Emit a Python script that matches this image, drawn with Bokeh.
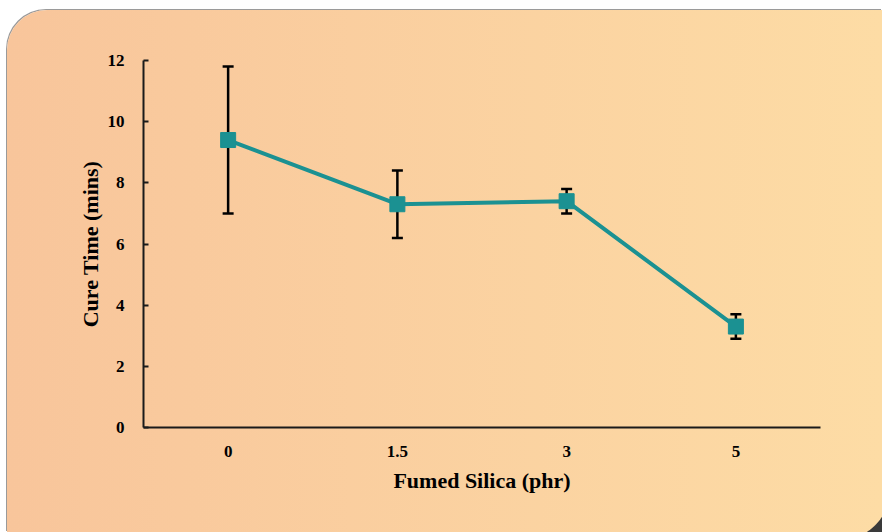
from bokeh.plotting import figure
from bokeh.models import ColumnDataSource, Whisker, TeeHead, FixedTicker
from bokeh.embed import file_html
from bokeh.resources import INLINE

categories = ["0", "1.5", "3", "5"]
cure_time = [9.4, 7.3, 7.4, 3.3]
err_upper = [11.8, 8.4, 7.8, 3.7]
err_lower = [7.0, 6.2, 7.0, 2.9]
y_ticks = [0, 2, 4, 6, 8, 10, 12]

source = ColumnDataSource(data=dict(x=categories, y=cure_time, upper=err_upper, lower=err_lower))

FONT = "Liberation Serif"
TEAL = "#1B9192"

p = figure(x_range=categories, y_range=(0, 12), width=875, height=522,
           output_backend="svg", toolbar_location=None,
           min_border_left=136, min_border_right=62, min_border_top=50, min_border_bottom=105)

p.background_fill_color = None
p.border_fill_color = None
p.outline_line_color = None
p.grid.visible = False

corner = ("radial-gradient(circle 50px at -12px -12px, rgba(58,58,58,0) 49.3px, #3a3a3a 50.3px) "
          "right bottom / 30px 30px no-repeat")
p.styles = {
    "margin-left": "7px",
    "margin-top": "10px",
    "background": corner + ", linear-gradient(to right, #F8C59B, #FDDCA5)",
    "border-top-left-radius": "40px",
    "box-shadow": "-1px -1px 0 0 #9a9a9a",
}

whisk = Whisker(base="x", upper="upper", lower="lower", source=source,
                line_color="black", line_width=2.5, level="underlay",
                upper_head=TeeHead(size=11, line_color="black", line_width=2.5),
                lower_head=TeeHead(size=11, line_color="black", line_width=2.5))
p.add_layout(whisk)

p.line("x", "y", source=source, line_color=TEAL, line_width=4)
p.scatter("x", "y", source=source, marker="square", size=15, fill_color=TEAL, line_color=TEAL)

for ax in (p.xaxis[0], p.yaxis[0]):
    ax.axis_line_color = "#1a1a1a"
    ax.axis_line_width = 2
    ax.major_tick_line_color = "#1a1a1a"
    ax.major_tick_line_width = 2
    ax.minor_tick_line_color = None
    ax.major_label_text_font = FONT
    ax.major_label_text_font_style = "bold"
    ax.major_label_text_font_size = "17px"
    ax.major_label_text_color = "#000000"
    ax.axis_label_text_font = FONT
    ax.axis_label_text_font_style = "bold"
    ax.axis_label_text_font_size = "22px"
    ax.axis_label_text_color = "#000000"

p.yaxis[0].ticker = FixedTicker(ticks=y_ticks)
p.yaxis[0].major_tick_in = 5
p.yaxis[0].major_tick_out = 0
p.yaxis[0].major_label_standoff = 19
p.yaxis[0].axis_label = "Cure Time (mins)"
p.yaxis[0].axis_label_standoff = 2

p.xaxis[0].major_tick_in = 0
p.xaxis[0].major_tick_out = 0
p.xaxis[0].major_tick_line_color = None
p.xaxis[0].major_label_standoff = 18
p.xaxis[0].axis_label = "Fumed Silica (phr)"
p.xaxis[0].axis_label_standoff = 8

open("out.html", "w").write(file_html(p, INLINE))
